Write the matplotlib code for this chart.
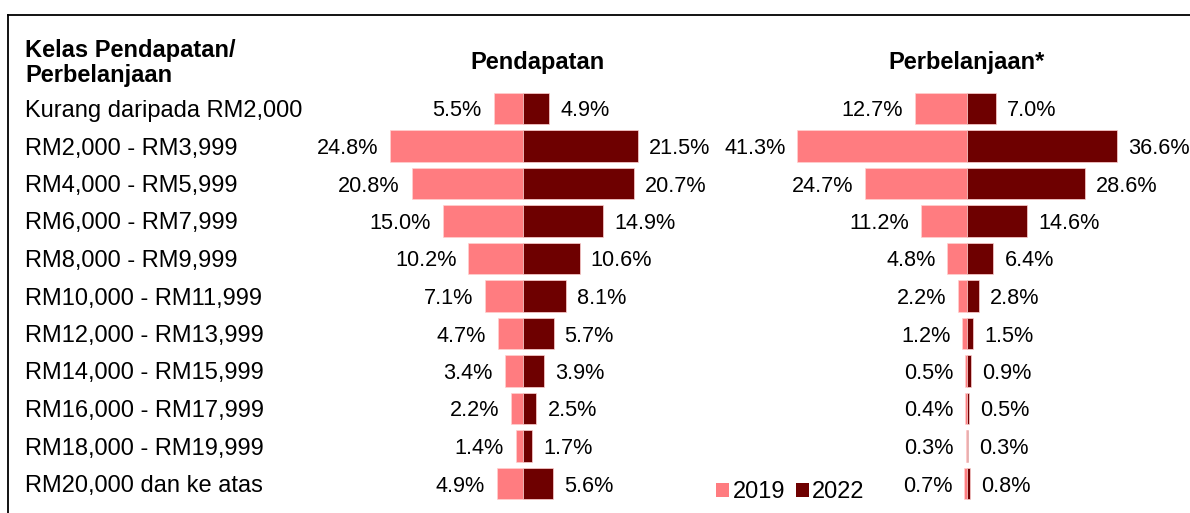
import matplotlib
matplotlib.use("Agg")
import matplotlib.pyplot as plt
from matplotlib.patches import Patch
from matplotlib.lines import Line2D
import matplotlib.transforms as mtransforms

plt.rcParams['font.family'] = ['Liberation Sans', 'DejaVu Sans']

categories = ["Kurang daripada RM2,000", "RM2,000 - RM3,999", "RM4,000 - RM5,999",
              "RM6,000 - RM7,999", "RM8,000 - RM9,999", "RM10,000 - RM11,999",
              "RM12,000 - RM13,999", "RM14,000 - RM15,999", "RM16,000 - RM17,999",
              "RM18,000 - RM19,999", "RM20,000 dan ke atas"]
income_2019 = [5.5, 24.8, 20.8, 15.0, 10.2, 7.1, 4.7, 3.4, 2.2, 1.4, 4.9]
income_2022 = [4.9, 21.5, 20.7, 14.9, 10.6, 8.1, 5.7, 3.9, 2.5, 1.7, 5.6]
spend_2019 = [12.7, 41.3, 24.7, 11.2, 4.8, 2.2, 1.2, 0.5, 0.4, 0.3, 0.7]
spend_2022 = [7.0, 36.6, 28.6, 14.6, 6.4, 2.8, 1.5, 0.9, 0.5, 0.3, 0.8]
years = ["2019", "2022"]
panel_titles = ["Pendapatan", "Perbelanjaan*"]
header = "Kelas Pendapatan/\nPerbelanjaan"

c2019 = "#FF7C80"
c2022 = "#6E0000"

W, H = 1190, 513
fig = plt.figure(figsize=(W / 100, H / 100), dpi=100)

row_top_px = 89.75
row_h_px = 37.5
n = len(categories)
ax_bottom = (H - (row_top_px + n * row_h_px)) / H
ax_height = n * row_h_px / H
FS = 17.0
FS_LBL = 15.6
DY = -1.8  # points, small downward shift so glyphs sit centred on bars


def make_axes(left_px, right_px, center_px, px_per_unit):
    ax = fig.add_axes([left_px / W, ax_bottom, (right_px - left_px) / W, ax_height])
    ax.set_xlim(-(center_px - left_px) / px_per_unit, (right_px - center_px) / px_per_unit)
    ax.set_ylim(n - 0.5, -0.5)
    ax.axis("off")
    return ax


ax1 = make_axes(300, 700, 523, 5.355)
ax2 = make_axes(715, 1190, 967, 4.11)

for ax, v19, v22, title, tx in [(ax1, income_2019, income_2022, panel_titles[0], 537),
                                (ax2, spend_2019, spend_2022, panel_titles[1], 967)]:
    ys = list(range(n))
    ax.barh(ys, [-v for v in v19], height=0.83, color=c2019, edgecolor="#FFD0D0", linewidth=0.5)
    ax.barh(ys, v22, height=0.83, color=c2022, edgecolor="#FFD0D0", linewidth=0.5)
    for y, a, b in zip(ys, v19, v22):
        ax.annotate(f"{a:.1f}%", xy=(-a, y), xytext=(-8.5, DY), textcoords="offset points",
                    ha="right", va="center", fontsize=FS_LBL, color="black", clip_on=False)
        ax.annotate(f"{b:.1f}%", xy=(b, y), xytext=(8, DY), textcoords="offset points",
                    ha="left", va="center", fontsize=FS_LBL, color="black", clip_on=False)
    fig.text(tx / W, 1 - 62 / H, title, ha="center", va="center", fontsize=FS, fontweight="bold")

tr = mtransforms.blended_transform_factory(fig.transFigure, ax1.transData)
tr = mtransforms.offset_copy(tr, fig=fig, x=0, y=DY, units="points")
for i, cat in enumerate(categories):
    fig.text(25 / W, i, cat, transform=tr, ha="left", va="center", fontsize=FS)

fig.text(25 / W, 1 - 63 / H, header, ha="left", va="center", fontsize=FS,
         fontweight="bold", linespacing=1.12)

# frame lines (left and top)
fig.add_artist(Line2D([8 / W, 8 / W], [0, 1 - 15 / H], transform=fig.transFigure, color="black", lw=1.3))
fig.add_artist(Line2D([8 / W, 1], [1 - 15 / H, 1 - 15 / H], transform=fig.transFigure, color="black", lw=1.3))

handles = [Patch(facecolor=c2019, edgecolor="none"), Patch(facecolor=c2022, edgecolor="none")]
fig.legend(handles, years, loc="center left", bbox_to_anchor=(716 / W, 1 - 492 / H), ncol=2,
           frameon=False, fontsize=FS, handlelength=0.55, handleheight=0.55, handletextpad=0.15,
           columnspacing=0.45, borderpad=0, borderaxespad=0)

fig.savefig("out.png", dpi=100)
